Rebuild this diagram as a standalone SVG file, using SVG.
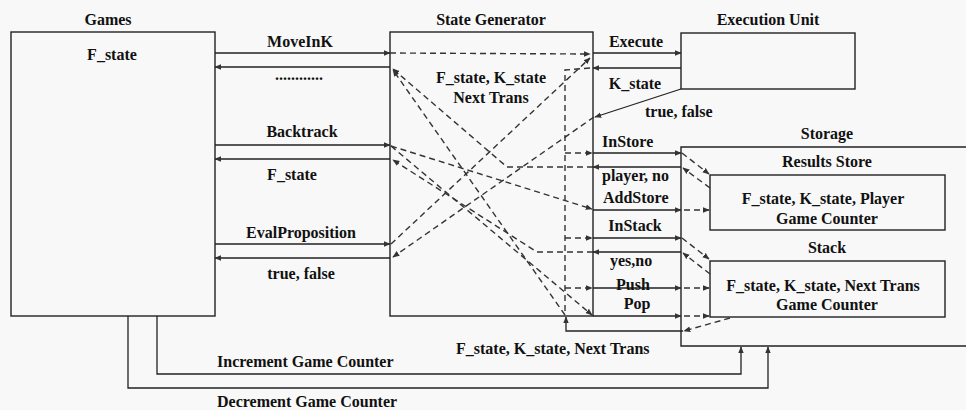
<svg xmlns="http://www.w3.org/2000/svg" width="966" height="410" viewBox="0 0 966 410">
<defs>
<marker id="ah" viewBox="0 0 10 10" refX="9" refY="5" markerWidth="7" markerHeight="7" orient="auto" markerUnits="userSpaceOnUse">
<path d="M0,1 L10,5 L0,9 z" fill="#333"/>
</marker>
</defs>
<style>
.box{fill:none;stroke:#222;stroke-width:1.4}
.ln{fill:none;stroke:#222;stroke-width:1.3}
.ds{fill:none;stroke:#333;stroke-width:1.4;stroke-dasharray:6,4}
text{font-family:"Liberation Serif","Times New Roman",serif;font-weight:bold;font-size:16px;fill:#111}
.c{text-anchor:middle}
</style>
<rect width="966" height="410" fill="#f8f8f8"/>
<g id="games">
<rect class="box" x="11" y="32" width="204" height="284"/>
<text class="c" x="108" y="25">Games</text>
<text class="c" x="112" y="60">F_state</text>
</g>
<g id="state-generator">
<rect class="box" x="390" y="32" width="203" height="284"/>
<text class="c" x="491" y="25">State Generator</text>
<text class="c" x="491" y="83">F_state, K_state</text>
<text class="c" x="491" y="103">Next Trans</text>
</g>
<g id="execution-unit">
<rect class="box" x="681" y="33" width="174" height="56"/>
<text class="c" x="768" y="25">Execution Unit</text>
</g>
<g id="storage">
<path class="box" d="M970,147 H681 V346 H970"/>
<text class="c" x="827" y="139">Storage</text>
</g>
<g id="results-store">
<rect class="box" x="710" y="175" width="235" height="55"/>
<text class="c" x="827" y="167">Results Store</text>
<text class="c" x="823" y="204">F_state, K_state, Player</text>
<text class="c" x="827" y="224">Game Counter</text>
</g>
<g id="stack">
<rect class="box" x="710" y="261" width="235" height="56"/>
<text class="c" x="827" y="253">Stack</text>
<text class="c" x="823" y="291">F_state, K_state, Next Trans</text>
<text class="c" x="827" y="310">Game Counter</text>
</g>
<g id="connectors">
<!-- Games <-> State Generator -->
<line class="ln" x1="215" y1="53" x2="390" y2="53" marker-end="url(#ah)"/>
<line class="ln" x1="390" y1="67" x2="215" y2="67" marker-end="url(#ah)"/>
<line class="ln" x1="215" y1="145" x2="390" y2="145" marker-end="url(#ah)"/>
<line class="ln" x1="390" y1="159" x2="215" y2="159" marker-end="url(#ah)"/>
<line class="ln" x1="215" y1="244" x2="390" y2="244" marker-end="url(#ah)"/>
<line class="ln" x1="390" y1="258" x2="215" y2="258" marker-end="url(#ah)"/>
<!-- Games -> Storage counters -->
<path class="ln" d="M157,316 V374 H741 V347" marker-end="url(#ah)"/>
<path class="ln" d="M128,316 V388 H768 V347" marker-end="url(#ah)"/>
<!-- State Generator <-> Execution Unit -->
<line class="ln" x1="593" y1="53" x2="681" y2="53" marker-end="url(#ah)"/>
<line class="ln" x1="681" y1="68" x2="593" y2="68" marker-end="url(#ah)"/>
<line class="ln" x1="681" y1="89" x2="595" y2="117" marker-end="url(#ah)"/>
<!-- State Generator <-> Storage -->
<line class="ln" x1="593" y1="153" x2="681" y2="153" marker-end="url(#ah)"/>
<line class="ln" x1="681" y1="167" x2="593" y2="167" marker-end="url(#ah)"/>
<line class="ln" x1="593" y1="210" x2="681" y2="210" marker-end="url(#ah)"/>
<line class="ln" x1="593" y1="238" x2="681" y2="238" marker-end="url(#ah)"/>
<line class="ln" x1="681" y1="252" x2="593" y2="252" marker-end="url(#ah)"/>
<line class="ln" x1="593" y1="288" x2="681" y2="288" marker-end="url(#ah)"/>
<line class="ln" x1="593" y1="316" x2="681" y2="316" marker-end="url(#ah)"/>
<path class="ln" d="M683,331 H566 V317" marker-end="url(#ah)"/>
<!-- inside storage -->
<line class="ds" x1="682" y1="153" x2="709" y2="174" marker-end="url(#ah)"/>
<line class="ds" x1="710" y1="188" x2="683" y2="168" marker-end="url(#ah)"/>
<line class="ds" x1="684" y1="210" x2="709" y2="210" marker-end="url(#ah)"/>
<line class="ds" x1="682" y1="238" x2="709" y2="259" marker-end="url(#ah)"/>
<line class="ds" x1="710" y1="274" x2="683" y2="253" marker-end="url(#ah)"/>
<line class="ds" x1="684" y1="288" x2="709" y2="288" marker-end="url(#ah)"/>
<line class="ds" x1="684" y1="316" x2="709" y2="316" marker-end="url(#ah)"/>
<line class="ds" x1="730" y1="318" x2="684" y2="331" marker-end="url(#ah)"/>
<!-- inside state generator -->
<line class="ds" x1="390" y1="53" x2="590" y2="54" marker-end="url(#ah)"/>
<line class="ds" x1="391" y1="244" x2="590" y2="58" marker-end="url(#ah)"/>
<line class="ds" x1="594" y1="117" x2="393" y2="257" marker-end="url(#ah)"/>
<path class="ds" d="M593,167 H507 L393,69" marker-end="url(#ah)"/>
<line class="ds" x1="565" y1="315" x2="393" y2="70" marker-end="url(#ah)"/>
<path class="ds" d="M593,252 H537 L393,160" marker-end="url(#ah)"/>
<line class="ds" x1="391" y1="146" x2="592" y2="315" marker-end="url(#ah)"/>
<line class="ds" x1="391" y1="146" x2="592" y2="209" marker-end="url(#ah)"/>
<path class="ds" d="M590,68 L565,70 V315"/>
<line class="ds" x1="565" y1="153" x2="592" y2="153" marker-end="url(#ah)"/>
<line class="ds" x1="565" y1="238" x2="592" y2="238" marker-end="url(#ah)"/>
<line class="ds" x1="565" y1="288" x2="592" y2="288" marker-end="url(#ah)"/>
</g>
<g id="labels">
<text class="c" x="300" y="47">MoveInK</text>
<text class="c" x="299" y="80">............</text>
<text class="c" x="302" y="137">Backtrack</text>
<text class="c" x="292" y="180">F_state</text>
<text class="c" x="301" y="238">EvalProposition</text>
<text class="c" x="301" y="279">true, false</text>
<text class="c" x="636" y="47">Execute</text>
<text class="c" x="635" y="89">K_state</text>
<text x="645" y="117">true, false</text>
<text x="602" y="147">InStore</text>
<text x="602" y="181">player, no</text>
<text x="603" y="203">AddStore</text>
<text class="c" x="635" y="231">InStack</text>
<text x="610" y="266">yes,no</text>
<text class="c" x="633" y="290">Push</text>
<text class="c" x="637" y="309">Pop</text>
<text x="456" y="354">F_state, K_state, Next Trans</text>
<text x="217" y="367">Increment Game Counter</text>
<text x="217" y="407">Decrement Game Counter</text>
</g>
</svg>
